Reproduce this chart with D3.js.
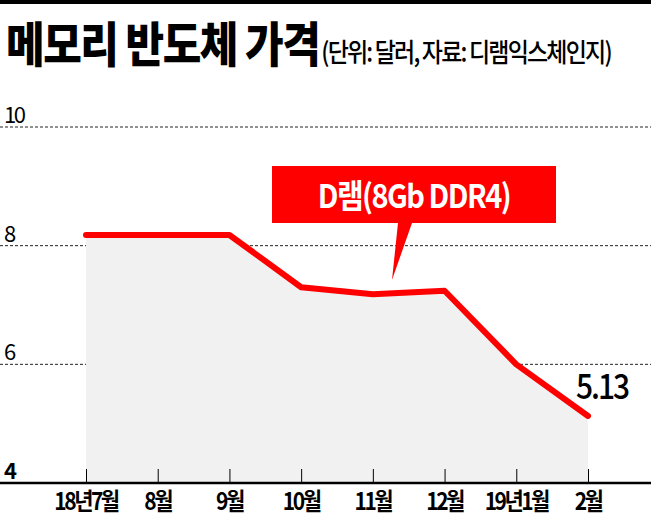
<!DOCTYPE html>
<html><head><meta charset="utf-8">
<script src="https://cdn.jsdelivr.net/npm/d3@7"></script>
<style>body{margin:0;background:#fff}text{font-family:"Noto Sans CJK KR",sans-serif}</style>
</head><body>
<svg id="c" width="651" height="520"></svg>
<script>
const months = ['18년7월','8월','9월','10월','11월','12월','19년1월','2월'];
const prices = [8.18, 8.18, 8.18, 7.3, 7.18, 7.24, 6.0, 5.13];
const yTicks = [4, 6, 8, 10];

const svg = d3.select('#c');
const x = d3.scalePoint().domain(months).range([86, 588]);
const y = d3.scaleLinear().domain([4, 10]).range([483, 127]);

svg.append('rect').attr('x', 0).attr('y', 0).attr('width', 651).attr('height', 4).attr('fill', '#000');
const title = svg.append('text').attr('transform', 'translate(6,62) scale(1,1.15)').attr('fill', '#000');
title.append('tspan').attr('font-size', 42).attr('font-weight', 900).attr('letter-spacing', -1.5).text('메모리 반도체 가격');
title.append('tspan').attr('font-size', 23).attr('font-weight', 500).attr('letter-spacing', -1.8).attr('dx', 2).text('(단위: 달러, 자료: 디램익스체인지)');

// grid
yTicks.filter(d => d > 4).forEach(t => {
  svg.append('line').attr('x1', 0).attr('x2', 651).attr('y1', y(t)).attr('y2', y(t))
    .attr('stroke', '#222').attr('stroke-dasharray', '3,2').attr('stroke-width', 1);
});
yTicks.forEach(t => {
  svg.append('text').attr('x', 4).attr('y', y(t) - 4).attr('font-size', 22).attr('letter-spacing', -2.5)
    .attr('font-weight', t === 4 ? 700 : 400).text(t);
});

const pts = months.map((m, i) => [x(m), y(prices[i])]);
svg.append('path').datum(pts)
  .attr('d', d3.area().x(d => d[0]).y0(y(4)).y1(d => d[1]))
  .attr('fill', '#f1f1f1');

// axis
svg.append('line').attr('x1', 0).attr('x2', 651).attr('y1', y(4)).attr('y2', y(4)).attr('stroke', '#000').attr('stroke-width', 2.5);
const ax = svg.append('g').attr('transform', `translate(0,${y(4)})`)
  .call(d3.axisTop(x).tickSize(14).tickFormat(''));
ax.select('.domain').remove();
ax.selectAll('line').attr('stroke', '#000');
months.forEach(m => {
  svg.append('text').attr('transform', `translate(${x(m)},510) scale(1,1.12)`).attr('text-anchor', 'middle')
    .attr('font-size', 21).attr('font-weight', 700).attr('letter-spacing', -2.5).text(m);
});

svg.append('path').datum(pts)
  .attr('d', d3.line())
  .attr('fill', 'none').attr('stroke', '#f00').attr('stroke-width', 6)
  .attr('stroke-linecap', 'round').attr('stroke-linejoin', 'round');

svg.append('text').attr('transform', `translate(${x('2월') - 12},${y(5.13) - 17}) scale(1,1.15)`)
  .attr('font-size', 30).attr('font-weight', 500).attr('letter-spacing', -2).text('5.13');

// label
svg.append('path').attr('d', 'M272,166H556V223H412L392,280L398,223H272Z').attr('fill', '#f00');
svg.append('text').attr('transform', 'translate(414,208) scale(1,1.12)').attr('text-anchor', 'middle').attr('fill', '#fff')
  .attr('font-size', 29).attr('font-weight', 700).attr('letter-spacing', -1.5).text('D램(8Gb DDR4)');
</script>
</body></html>
